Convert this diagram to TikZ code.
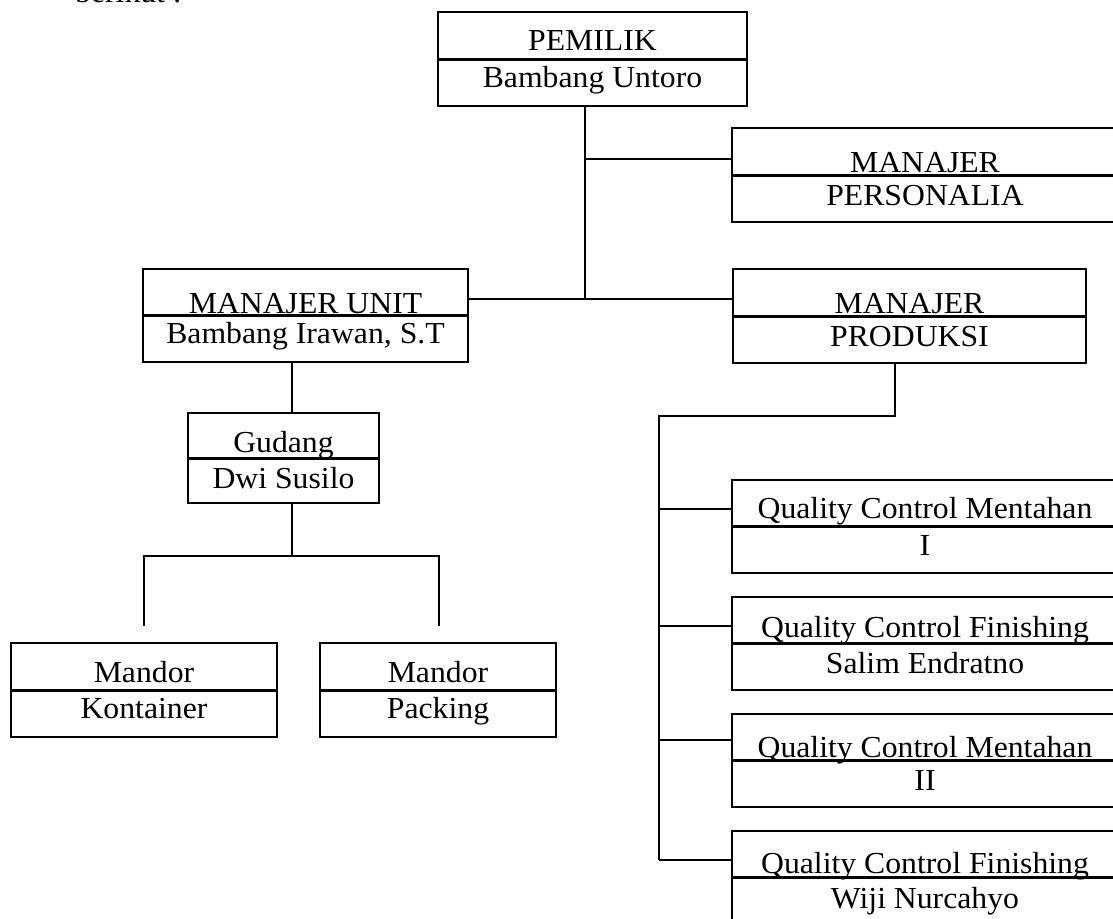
\documentclass[tikz,border=0pt]{standalone}
\usepackage{fontspec}
\setmainfont{Liberation Serif}[FakeStretch=1.04]
\begin{document}
\begin{tikzpicture}[x=1pt,y=-1pt,
  box/.style={draw, line width=1.5pt, rectangle, inner sep=0pt, minimum height=94pt},
  lbl/.style={anchor=base, inner sep=0pt, font=\fontsize{30.5}{34}\selectfont},
  divline/.style={line width=3pt},
  conn/.style={line width=1.5pt, line join=miter}]
\useasboundingbox (0,0) rectangle (1113,918);

% clipped line of text at the very top
\node[lbl, anchor=base west] (intro) at (75,2) {berikut :};

% boxes
\node[box, minimum width=309pt] (pemilik) at (592.5,59) {};
\node[box, minimum width=386pt] (personalia) at (925,175) {};
\node[box, minimum width=325pt, minimum height=93pt] (unit) at (305.5,315.5) {};
\node[box, minimum width=353pt] (produksi) at (909.5,316) {};
\node[box, minimum width=191pt, minimum height=90pt] (gudang) at (283.5,458) {};
\node[box, minimum width=266pt] (kontainer) at (144,690) {};
\node[box, minimum width=236pt] (packing) at (438,690) {};
\node[box, minimum width=386pt, minimum height=93pt] (qca) at (925,526.5) {};
\node[box, minimum width=386pt, minimum height=93pt] (qcb) at (925,643.5) {};
\node[box, minimum width=386pt, minimum height=93pt] (qcc) at (925,760.5) {};
\node[box, minimum width=386pt, minimum height=93pt] (qcd) at (925,877.5) {};

% dividers
\foreach \b in {pemilik,personalia,unit,produksi,gudang,kontainer,packing,qca,qcb,qcc,qcd}
  \draw[divline] (\b.west) -- (\b.east);

% texts
\node[lbl] (t1a) at (592.5,50) {PEMILIK};
\node[lbl] (t1b) at (592.5,87) {Bambang Untoro};
\node[lbl] (t2a) at (925,172) {MANAJER};
\node[lbl] (t2b) at (925,205) {PERSONALIA};
\node[lbl] (t3a) at (305.5,313) {MANAJER UNIT};
\node[lbl] (t3b) at (305.5,343) {Bambang Irawan, S.T};
\node[lbl] (t4a) at (909.5,313) {MANAJER};
\node[lbl] (t4b) at (909.5,346) {PRODUKSI};
\node[lbl] (t5a) at (283.5,452) {Gudang};
\node[lbl] (t5b) at (283.5,488) {Dwi Susilo};
\node[lbl] (t6a) at (144,682) {Mandor};
\node[lbl] (t6b) at (144,718) {Kontainer};
\node[lbl] (t7a) at (438,682) {Mandor};
\node[lbl] (t7b) at (438,718) {Packing};
\node[lbl] (t8a) at (925,518) {Quality Control Mentahan};
\node[lbl] (t8b) at (925,555) {I};
\node[lbl] (t9a) at (925,637) {Quality Control Finishing};
\node[lbl] (t9b) at (925,673) {Salim Endratno};
\node[lbl] (t10a) at (925,757) {Quality Control Mentahan};
\node[lbl] (t10b) at (925,790) {II};
\node[lbl] (t11a) at (925,873) {Quality Control Finishing};
\node[lbl] (t11b) at (925,908) {Wiji Nurcahyo};

% connectors
\coordinate (jTop) at (585,299);
\coordinate (jPers) at (585,159);
\draw[conn] (pemilik.south -| jTop) -- (jTop);
\draw[conn] (jPers) -- (jPers -| personalia.west);
\draw[conn] (jTop -| unit.east) -- (jTop -| produksi.west);

\coordinate (xU) at (292,380);
\draw[conn] (unit.south -| xU) -- (gudang.north -| xU);
\coordinate (jG) at (292,556);
\coordinate (gL) at (144,556);
\coordinate (gR) at (439,556);
\coordinate (gLe) at (144,626);
\coordinate (gRe) at (439,626);
\draw[conn] (gudang.south -| jG) -- (jG);
\draw[conn] (gLe) -- (gL) -- (gR) -- (gRe);

\coordinate (pA) at (895,416);
\coordinate (pB) at (659,416);
\coordinate (pC) at (659,860);
\draw[conn] (produksi.south -| pA) -- (pA) -- (pB) -- (pC);
\coordinate (bqa) at (659,509);
\coordinate (bqb) at (659,626);
\coordinate (bqc) at (659,740);
\coordinate (bqd) at (659,860);
\draw[conn] (bqa) -- (bqa -| qca.west);
\draw[conn] (bqb) -- (bqb -| qcb.west);
\draw[conn] (bqc) -- (bqc -| qcc.west);
\draw[conn] (bqd) -- (bqd -| qcd.west);
\end{tikzpicture}
\end{document}
